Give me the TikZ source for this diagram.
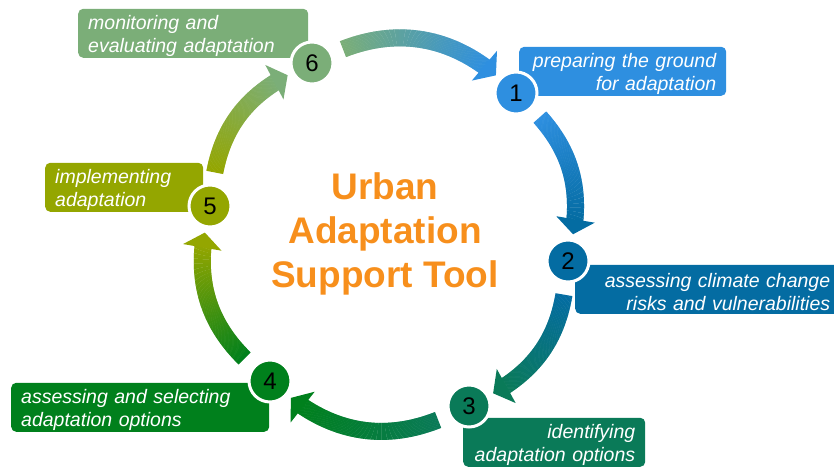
\documentclass[tikz,border=0pt]{standalone}
\usepackage{fontspec}
\setmainfont{Liberation Sans}
\usetikzlibrary{decorations.markings}

\definecolor{stageone}{RGB}{46,143,224}
\definecolor{stagetwo}{RGB}{4,108,162}
\definecolor{stagethree}{RGB}{10,122,88}
\definecolor{stagefour}{RGB}{0,128,28}
\definecolor{stagefive}{RGB}{148,166,0}
\definecolor{stagesix}{RGB}{123,174,120}
\definecolor{titleorange}{RGB}{247,143,28}

\newcommand{\notefont}{\fontsize{19.5}{23}\selectfont\itshape}

\tikzset{
  stage/.style={circle, draw=white, line width=3pt, minimum size=42pt, inner sep=0pt,
    font=\fontsize{24}{24}\selectfont},
  note/.style={rectangle, rounded corners=5pt, text=white, font=\notefont,
    inner xsep=10pt, inner ysep=0pt, minimum height=49pt, anchor=south west,
    execute at begin node={\rule{0pt}{19pt}}},
  % flecha gruesa con degradado de #1 a #2
  flow/.style 2 args={
    decoration={markings,
      mark=between positions 12pt and -18pt step 0.8pt with {
        \pgfmathtruncatemacro\mixpct{max(0,min(100,100*(\pgfkeysvalueof{/pgf/decoration/mark info/distance from start}-12)/(\pgfdecoratedpathlength-30)))}
        \fill[#2!\mixpct!#1] (-0.6pt,-8.5pt) rectangle (0.6pt,8.5pt);
      },
      mark=at position -5pt with {\fill[#2] (0pt,0pt) -- (-15pt,19.5pt) -- (-15pt,-19.5pt) -- cycle;}
    },
    postaction=decorate
  }
}

\begin{document}
\begin{tikzpicture}[x=1pt, y=1pt]
  \useasboundingbox (0,0) rectangle (834,468);

  % Cajas de texto
  \node[note, fill=stageone, text width=187pt, align=right] (t1) at (519,372) {preparing the ground\\for adaptation};
  \node[note, fill=stagetwo, text width=245pt, align=right] (t2) at (575,154) {assessing climate change\\risks and vulnerabilities};
  \node[note, fill=stagethree, text width=162pt, align=right] (t3) at (463,1) {identifying\\adaptation options};
  \node[note, fill=stagefour, text width=238pt, align=left] (t4) at (11,36) {assessing and selecting\\adaptation options};
  \node[note, fill=stagefive, text width=138pt, align=left] (t5) at (45,256) {implementing\\adaptation};
  \node[note, fill=stagesix, text width=210pt, align=left] (t6) at (78,410) {monitoring and\\evaluating adaptation};

  % Etapas numeradas
  \node[stage, fill=stageone] (n1) at (516,375) {1};
  \node[stage, fill=stagetwo] (n2) at (568,207) {2};
  \node[stage, fill=stagethree] (n3) at (469,62) {3};
  \node[stage, fill=stagefour] (n4) at (270,87) {4};
  \node[stage, fill=stagefive] (n5) at (210,262) {5};
  \node[stage, fill=stagesix] (n6) at (312,405) {6};

  % Flechas del ciclo
  \path[flow={stagesix}{stageone}] (n6) to[bend left=33] (n1);
  \path[flow={stageone}{stagetwo}] (n1) to[bend left=28] (n2);
  \path[flow={stagetwo}{stagethree}] (n2) to[bend left=28] (n3);
  \path[flow={stagethree}{stagefour}] (n3) to[bend left=32] (n4);
  \path[flow={stagefour}{stagefive}] (n4) to[bend left=30] (n5);
  \path[flow={stagefive}{stagesix}] (n5) to[bend left=28] (n6);

  % Título
  \node[font=\bfseries\fontsize{37}{44}\selectfont, text=titleorange, align=center, inner sep=0pt] (title) at (385,233.6) {Urban\\Adaptation\\Support Tool};
\end{tikzpicture}
\end{document}
